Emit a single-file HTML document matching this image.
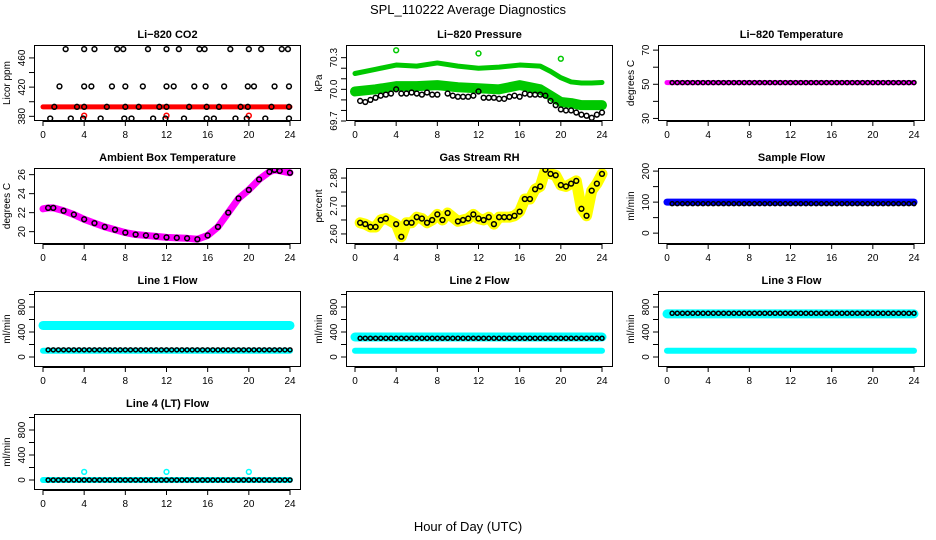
<!DOCTYPE html>
<html><head><meta charset="utf-8"><style>
html,body{margin:0;padding:0;background:#fff;}
svg{display:block;font-family:"Liberation Sans",Arial,sans-serif;}
</style></head><body>
<svg id="c" width="936" height="540" viewBox="0 0 936 540" xmlns="http://www.w3.org/2000/svg">
<text x="468" y="14" text-anchor="middle" font-size="13">SPL_110222  Average Diagnostics</text>
<text x="468" y="531" text-anchor="middle" font-size="13">Hour of Day (UTC)</text>
</svg>
<script>
// ---- data ----
const xTicks=[0,4,8,12,16,20,24];
const co2TopH=[2.2,4,5,7.2,7.8,10.2,12,13.2,15.2,15.7,18.2,20,21.2,23.2,23.8];
const co2MidH=[1.6,4,4.7,6.7,8,9.7,12,12.7,14.7,15.8,17.6,19.9,20.5,22.5,23.9];
const co2LowH=[1.1,3.3,4,6.2,8,9.3,11.3,12,14.2,15.9,17.1,19.2,19.9,22.2,23.9];
const co2BotH=[0.7,2.7,3.9,5.6,7.9,8.6,10.7,11.9,13.7,15.9,16.6,18.7,19.8,21.6,23.9];
const co2Levels=[472,421,393,377];
const co2RedBand=[393,393];
const co2RedOutH=[4,12,20];
const co2RedOutV=[381,381,381];
const presH=[0,2,4,6,8,10,12,14,16,18,19,20,21,22,23,24];
const presUpper=[70.15,70.19,70.23,70.22,70.25,70.22,70.20,70.21,70.23,70.22,70.17,70.11,70.07,70.06,70.06,70.065];
const presLower=[69.98,70.0,70.03,70.03,70.04,70.02,70.01,70.0,70.04,70.0,69.94,69.88,69.87,69.85,69.85,69.85];
const presBlackH=[0.5,1,1.5,2,2.5,3,3.5,4,4.5,5,5.5,6,6.5,7,7.5,8,9,9.5,10,10.5,11,11.5,12,12.5,13,13.5,14,14.5,15,15.5,16,16.5,17,17.5,18,18.5,19,19.5,20,20.5,21,21.5,22,22.5,23,23.5,24];
const presBlackV=[69.89,69.88,69.9,69.92,69.94,69.95,69.96,70.0,69.96,69.96,69.97,69.96,69.95,69.97,69.95,69.95,69.96,69.94,69.93,69.93,69.93,69.94,69.98,69.92,69.92,69.92,69.91,69.91,69.93,69.94,69.93,69.96,69.95,69.95,69.95,69.94,69.89,69.85,69.81,69.8,69.8,69.78,69.76,69.75,69.73,69.76,69.78];
const presOutH=[4,12,20];
const presOutV=[70.37,70.34,70.29];
const tempH=[0,24];
const tempV=[51,51];
const tempBlackH=[0.5,1,1.5,2,2.5,3,3.5,4,4.5,5,5.5,6,6.5,7,7.5,8,8.5,9,9.5,10,10.5,11,11.5,12,12.5,13,13.5,14,14.5,15,15.5,16,16.5,17,17.5,18,18.5,19,19.5,20,20.5,21,21.5,22,22.5,23,23.5,24];
const ambH=[0,0.5,1,2,3,4,5,6,7,8,9,10,11,12,13,14,15,16,17,18,19,20,21,22,22.5,23,24];
const ambV=[22.4,22.5,22.5,22.2,21.8,21.3,20.9,20.5,20.2,19.9,19.7,19.6,19.5,19.4,19.35,19.3,19.2,19.6,20.5,22.0,23.5,24.4,25.5,26.3,26.5,26.4,26.2];
const rhH=[0.5,1,1.5,2,2.5,3,4,4.5,5,5.5,6,6.5,7,7.5,8,8.5,9,10,10.5,11,11.5,12,12.5,13,13.5,14,14.5,15,15.5,16,16.5,17,17.5,18,18.5,19,19.5,20,20.5,21,21.5,22,22.5,23,23.5,24];
const rhV=[2.64,2.635,2.625,2.625,2.65,2.655,2.635,2.59,2.64,2.64,2.66,2.655,2.64,2.65,2.67,2.65,2.675,2.645,2.65,2.655,2.67,2.655,2.65,2.66,2.635,2.66,2.66,2.66,2.665,2.68,2.725,2.725,2.76,2.77,2.83,2.815,2.81,2.775,2.77,2.78,2.79,2.69,2.665,2.755,2.78,2.815];
const flowSampleBlue=[100,100];
const flowSampleBlack=[95,95];
const line1Cyan=[505,100];
const line1Black=[115];
const line2Cyan=[320,100];
const line2Black=[300];
const line3Cyan=[690,100];
const line3Black=[700];
const line4Cyan=[0];
const line4Black=[0];
const line4OutH=[4,12,20];
const line4OutV=[130,130,130];

// ---- drawing ----
const svg=document.getElementById('c');
const NS='http://www.w3.org/2000/svg';
function mk(tag,attrs,parent){const e=document.createElementNS(NS,tag);for(const k in attrs)e.setAttribute(k,attrs[k]);(parent||svg).appendChild(e);return e;}

function panel(col,row,name,title,ylab,ymin,ymax,ticks,labels){
  const g=mk('g',{});
  
  
  const L=34+312*col,R=301+312*col,T=45+123*row,B=121+123*row;
  const x0=43+312*col,x1=290+312*col;
  const fx=h=>x0+h*(x1-x0)/24;
  const fy=v=>B-(v-ymin)/(ymax-ymin)*(B-T);
  const t=mk('text',{x:(L+R)/2,y:T-7,'text-anchor':'middle','font-size':11,'font-weight':'bold'},g);
  t.textContent=title;
  
  
  const yl=mk('text',{x:0,y:0,'text-anchor':'middle','font-size':10,transform:`translate(${L-24},${(T+B)/2}) rotate(-90)`},g);
  yl.textContent=ylab;
  
  
  xTicks.forEach(h=>{
    mk('line',{x1:fx(h),x2:fx(h),y1:B,y2:B+5,stroke:'#000'},g);
    const tl=mk('text',{x:fx(h),y:B+17,'text-anchor':'middle','font-size':10},g);
    tl.textContent=h;
    
    
  });
  mk('line',{x1:fx(0),x2:fx(24),y1:B+0.5,y2:B+0.5,stroke:'#000'},g);
  ticks.forEach((v,i)=>{
    mk('line',{x1:L-5,x2:L,y1:fy(v),y2:fy(v),stroke:'#000'},g);
    if(labels[i]!==''){
      const tl=mk('text',{x:0,y:0,'text-anchor':'middle','font-size':10,transform:`translate(${L-9},${fy(v)}) rotate(-90)`},g);
      tl.textContent=labels[i];
      
      
    }
  });
  const clipId='clip'+col+row;
  const cp=mk('clipPath',{id:clipId},g);mk('rect',{x:L,y:T,width:R-L,height:B-T},cp);
  const plot=mk('g',{'clip-path':`url(#${clipId})`},g);
  
  
  mk('rect',{x:L+0.5,y:T+0.5,width:R-L-1,height:B-T-1,fill:'none',stroke:'#000'},g);
  return {fx,fy,plot};
}
function band(p,hs,vs,color,w,name){
  const pts=hs.map((h,i)=>p.fx(h)+','+p.fy(vs[i])).join(' ');
  const e=mk('polyline',{points:pts,fill:'none',stroke:color,'stroke-width':w,'stroke-linejoin':'round','stroke-linecap':'round'},p.plot);
  
  
}
function pts(p,hs,vs,color,name,r){
  hs.forEach((h,i)=>{
    const e=mk('circle',{cx:p.fx(h),cy:p.fy(vs[i]),r:r||2.4,fill:'none',stroke:color,'stroke-width':1.5},p.plot);
    
    
  });
}
const halfHours=tempBlackH;
const rep=(v,n)=>Array(n).fill(v);

// CO2
let p=panel(0,0,'co2','Li−820 CO2','Licor ppm',373.6,477.7,[380,400,420,440,460],['380','','420','','460']);
band(p,[0,24],co2RedBand,'#ff0000',5,'co2-red-band');
pts(p,co2RedOutH,co2RedOutV,'#ff0000','co2-red-outlier');
[co2TopH,co2MidH,co2LowH,co2BotH].forEach((hs,k)=>pts(p,hs,rep(co2Levels[k],hs.length),'#000','co2-point'));

// Pressure
p=panel(1,0,'pressure','Li−820 Pressure','kPa',69.7,70.42,[69.7,69.8,69.9,70.0,70.1,70.2,70.3],['69.7','','','70.0','','','70.3']);
band(p,presH,presUpper,'#00c800',5,'pressure-upper-band');
band(p,presH,presLower,'#00c800',10,'pressure-lower-band');
pts(p,presOutH,presOutV,'#00c800','pressure-outlier');
pts(p,presBlackH,presBlackV,'#000','pressure-point');

// Temperature
p=panel(2,0,'li820-temp','Li−820 Temperature','degrees C',28.5,73,[30,40,50,60,70],['30','','50','','70']);
band(p,tempH,tempV,'#ff00ff',5,'temp-band');
pts(p,tempBlackH,rep(tempV[0],tempBlackH.length),'#000','temp-point',2);

// Ambient
p=panel(0,1,'ambient','Ambient Box Temperature','degrees C',18.7,26.7,[20,22,24,26],['20','22','24','26']);
band(p,ambH,ambV,'#ff00ff',7,'ambient-band');
pts(p,ambH.slice(1),ambV.slice(1),'#000','ambient-point');

// RH
p=panel(1,1,'rh','Gas Stream RH','percent',2.564,2.836,[2.6,2.65,2.7,2.75,2.8],['2.60','','2.70','','2.80']);
band(p,rhH,rhV,'#ffff00',11,'rh-band');
pts(p,rhH,rhV,'#000','rh-point');

// Sample flow
p=panel(2,1,'sample-flow','Sample Flow','ml/min',-35,210,[0,50,100,150,200],['0','','100','','200']);
band(p,[0,24],flowSampleBlue,'#0000ff',7,'sample-flow-band');
pts(p,halfHours,rep(flowSampleBlack[0],halfHours.length),'#000','sample-flow-point',2);

const fT=[0,200,400,600,800,1000],fL=['0','','400','','800',''];
function flowPanel(c,r,name,title,cy,bk){
  const q=panel(c,r,name,title,'ml/min',-160,1056,fT,fL);
  cy.forEach((v,i)=>band(q,[0,24],[v,v],'#00ffff',i===0&&v>200?9:6,name+'-cyan-band'));
  pts(q,halfHours,rep(bk[0],halfHours.length),'#000',name+'-point',2);
  return q;
}
flowPanel(0,2,'line1-flow','Line 1 Flow',line1Cyan,line1Black);
flowPanel(1,2,'line2-flow','Line 2 Flow',line2Cyan,line2Black);
flowPanel(2,2,'line3-flow','Line 3 Flow',line3Cyan,line3Black);
p=flowPanel(0,3,'line4-flow','Line 4 (LT) Flow',line4Cyan,line4Black);
pts(p,line4OutH,line4OutV,'#00ffff','line4-outlier');
</script>
</body></html>
